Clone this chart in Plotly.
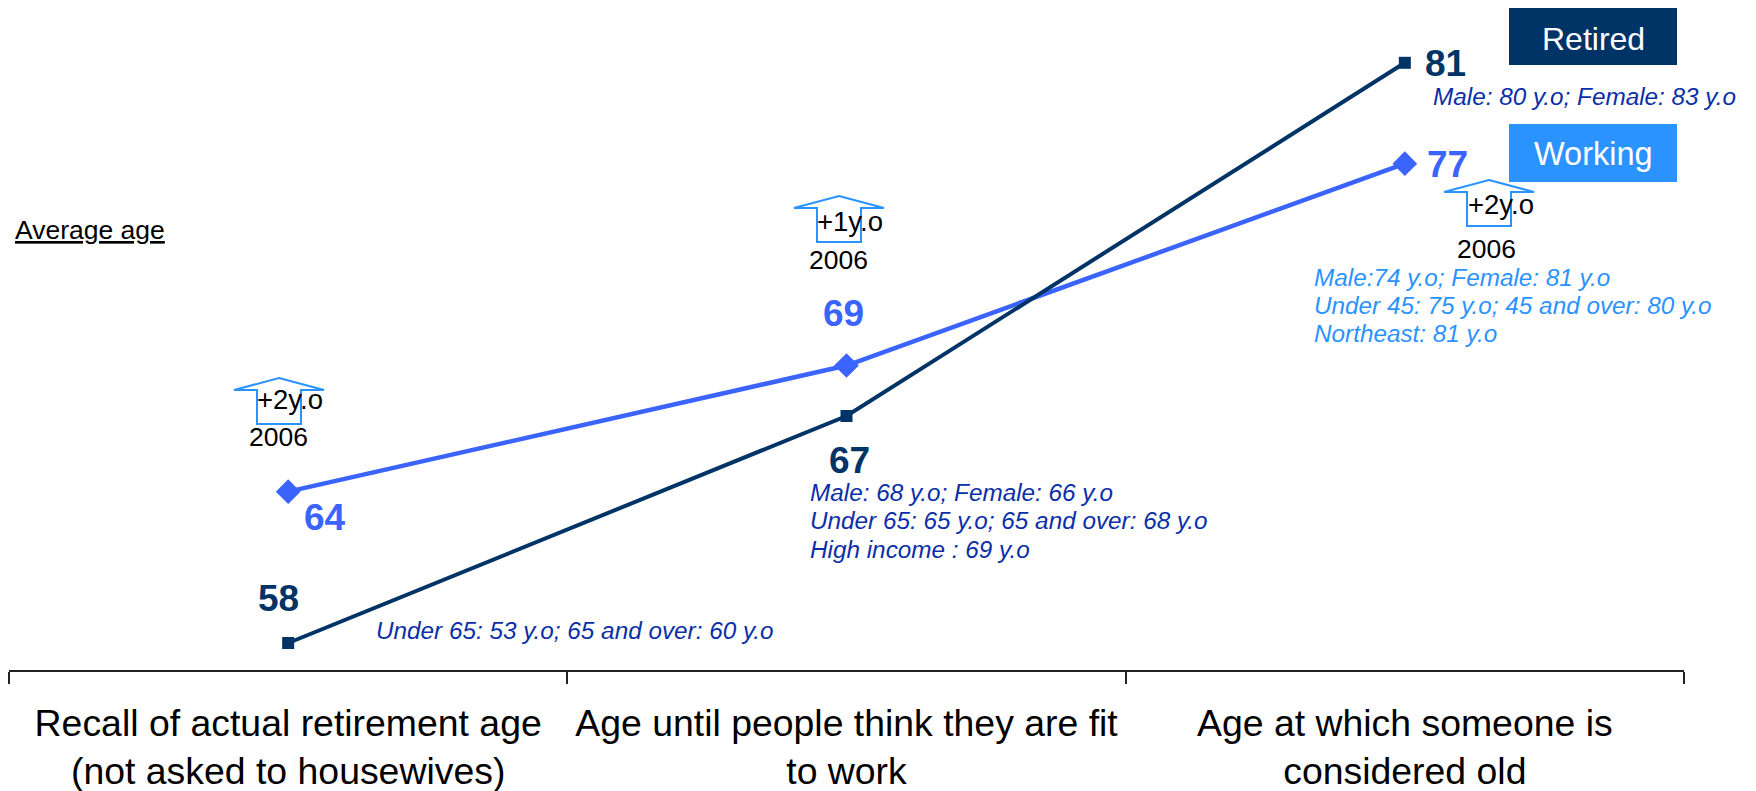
import plotly.graph_objects as go

categories = ["Recall of actual retirement age<br>(not asked to housewives)",
              "Age until people think they are fit<br>to work",
              "Age at which someone is<br>considered old"]
working = [64, 69, 77]
retired = [58, 67, 81]
working_offsets = [(37, -26), (-3, 52), (43, -1)]
retired_offsets = [(-10, 45), (3, -45), (41, -1)]

NAVY = "#003366"
BLUE = "#3B64FF"
SKY = "#2B93FF"
DEEP = "#0B2FA8"
FONT = "Liberation Sans"
L, R, T, B = 9, 1684, 0, 670


def px(x):
    return (x - L) / (R - L)


def py(y):
    return (B - y) / (B - T)


fig = go.Figure()
fig.add_trace(go.Scatter(x=categories, y=working, mode="lines+markers", name="Working",
                         line=dict(color=BLUE, width=4.5),
                         marker=dict(symbol="diamond", size=19, color=BLUE)))
fig.add_trace(go.Scatter(x=categories, y=retired, mode="lines+markers", name="Retired",
                         line=dict(color=NAVY, width=4),
                         marker=dict(symbol="square", size=12, color=NAVY)))

ann = []
for i, (v, o) in enumerate(zip(working, working_offsets)):
    ann.append(dict(x=i, y=v, xref="x", yref="y", text=f"<b>{v}</b>", showarrow=False,
                    xshift=o[0], yshift=o[1], font=dict(size=37, color=BLUE, family=FONT)))
for i, (v, o) in enumerate(zip(retired, retired_offsets)):
    ann.append(dict(x=i, y=v, xref="x", yref="y", text=f"<b>{v}</b>", showarrow=False,
                    xshift=o[0], yshift=o[1], font=dict(size=37, color=NAVY, family=FONT)))


def note(x, y, text, size, color="#000000", anchor="center"):
    ann.append(dict(x=px(x), y=py(y), xref="paper", yref="paper", text=text, showarrow=False,
                    xanchor=anchor, yanchor="middle", font=dict(size=size, color=color, family=FONT)))


note(13, 230, "<u>Average age</u>", 26.5, anchor="left")
note(1593, 39, "Retired", 32, "#FFFFFF")
note(1593, 154, "Working", 32.5, "#FFFFFF")

for x, y, t in [(290, 400, "+2y.o"), (850, 221, "+1y.o"), (1501, 204, "+2y.o")]:
    note(x, y, t, 27.5)
for x, y in [(278, 437), (838, 260), (1486, 249)]:
    note(x, y, "2006", 26.5)

for y, t in [(96, "Male: 80 y.o; Female: 83 y.o")]:
    note(1431, y, f"<i>{t}</i>", 24.3, DEEP, "left")
for y, t in [(492, "Male: 68 y.o; Female: 66 y.o"),
             (520, "Under 65: 65 y.o; 65 and over: 68 y.o"),
             (549, "High income : 69 y.o")]:
    note(808, y, f"<i>{t}</i>", 24.3, DEEP, "left")
note(374, 630, "<i>Under 65: 53 y.o; 65 and over: 60 y.o</i>", 24.3, DEEP, "left")
for y, t in [(277, "Male:74 y.o; Female: 81 y.o"),
             (305, "Under 45: 75 y.o; 45 and over: 80 y.o"),
             (333, "Northeast: 81 y.o")]:
    note(1312, y, f"<i>{t}</i>", 24.3, SKY, "left")

shapes = []
for y0, y1, c in [(8, 65, NAVY), (124, 182, SKY)]:
    shapes.append(dict(type="rect", xref="paper", yref="paper", x0=px(1509), x1=px(1677),
                       y0=py(y1), y1=py(y0), fillcolor=c, line_width=0, layer="below"))

for cx, top in [(279, 378), (839, 196), (1489, 180)]:
    pts = [(cx, top), (cx + 45, top + 12), (cx + 22, top + 12), (cx + 22, top + 46),
           (cx - 22, top + 46), (cx - 22, top + 12), (cx - 45, top + 12)]
    path = "M " + " L ".join(f"{px(a):.5f},{py(b):.5f}" for a, b in pts) + " Z"
    shapes.append(dict(type="path", xref="paper", yref="paper", path=path,
                       line=dict(color=SKY, width=2), fillcolor="#FFFFFF", layer="below"))

fig.update_layout(
    width=1756, height=791, autosize=False,
    margin=dict(l=L, r=1756 - R, t=T, b=791 - B, autoexpand=False),
    paper_bgcolor="#FFFFFF", plot_bgcolor="#FFFFFF", showlegend=False,
    font=dict(family=FONT, color="#000000"),
    annotations=ann, shapes=shapes,
    xaxis=dict(type="category", categoryorder="array", categoryarray=categories,
               range=[-0.5, 2.5], tickson="boundaries", ticks="outside", ticklen=12,
               tickwidth=1.5, tickcolor="#222222", showline=True, linecolor="#222222",
               linewidth=1.5, showgrid=False, zeroline=False, tickangle=0,
               ticklabelstandoff=19,
               tickfont=dict(size=37.4, color="#000000", family=FONT)),
    yaxis=dict(range=[56.93, 83.49], visible=False, showgrid=False, zeroline=False),
)
fig.write_html("out.html", config={"displayModeBar": False},
               post_script="document.body.style.margin='0';document.documentElement.style.overflow='hidden';")
